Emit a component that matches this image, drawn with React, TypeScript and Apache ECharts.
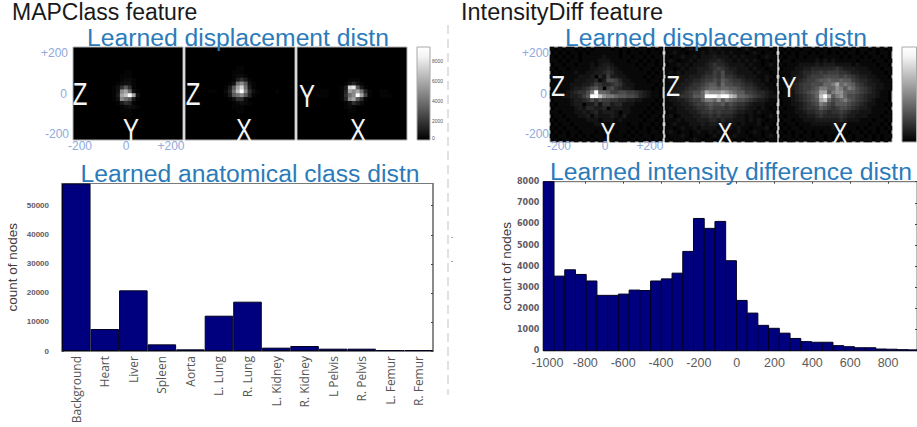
import React, { useEffect, useRef } from "react";
import * as echarts from "echarts";

const classNames = ["Background", "Heart", "Liver", "Spleen", "Aorta", "L. Lung", "R. Lung", "L. Kidney", "R. Kidney", "L Pelvis", "R. Pelvis", "L. Femur", "R. Femur"];
const classCounts = [57640, 7570, 20870, 2290, 570, 12150, 16970, 1150, 1720, 800, 800, 340, 340];
const classTicks = [0, 10000, 20000, 30000, 40000, 50000];

const intensityBinStart = -1022;
const intensityBinWidth = 56.7;
const intensityCounts = [8000, 3530, 3830, 3610, 3300, 2620, 2620, 2680, 2870, 2850, 3300, 3400, 3670, 4700, 6260, 5790, 6120, 4260, 2380, 1780, 1200, 1060, 830, 580, 430, 400, 400, 240, 190, 140, 140, 80, 70, 50, 40];
const intensityXTicks = [-1000, -800, -600, -400, -200, 0, 200, 400, 600, 800];
const intensityYTicks = [0, 1000, 2000, 3000, 4000, 5000, 6000, 7000, 8000];

const colorbarTicks = ["8000", "6000", "4000", "2000", "0"];

// displacement histograms: one hex digit per cell, brightness 0..f, top row first
const mapZY = ["", "", "", "", "", "",
  "0000000000000110", "0000000000001110", "0000000000001221", "0000000000012331",
  "0000000000136861", "000000000013ab931", "000000000014bcfb3", "000000000013a9841",
  "0000000000014651", "00000000000012321", "000000000000111", "000000000000011"];
const mapZX = ["", "", "", "", "",
  "0000000000000110", "0000000000001110", "0000000000001221", "00000000000014641",
  "00000000000139a831", "0000000000148bd941", "0000001100259cfa63100001", "00000000001489a851",
  "0000000000013662", "00000000000012321", "000000000000111", "0000000000000110"];
const mapYX = ["", "", "", "", "", "", "", "",
  "0000000000000111", "00000000000013531", "0000000000014de841", "0000001100015bab9510011",
  "00000111000169afb71001110", "0000000000015ab861", "00000000000013642", "000000000000121", "0000000000000110"];
const intensityZY = [
  "1010110101011110101010110101", "0101011010111111101011010110", "1010101011111211101101101011",
  "1101011011112221111011010101", "0110110111212332111110101101", "1011011111223343211111011010",
  "0101112112233454221111110101", "1101111222304263322111101011", "0111112223341377642211110110",
  "1011122233465445653221111101", "0111123345786067543321111010", "1111234557af9986677665432110",
  "1112233468ffdbaa988776432110", "0111123345757665544332211101", "1011123303352553442221111010",
  "0111112324433403332211110101", "1101112232342333202211101011", "0110111223132223213111010110",
  "1011011112221222121111101101", "0101101111122112111011011010", "1010110111111111111101010101",
  "0101011011101111011010110110", "1011010101011010110101011011", "0101101010101101011010101010"];
const intensityZX = [
  "1111012101121211110121011101", "0121101112122121211101210110", "1011211212223222121211101211",
  "1210112122233432212121210101", "0112121222345443222212110121", "1101212233345654332221211011",
  "1212122233446574432222121101", "0112223334556575543322211210", "1212233445667687655433221201",
  "1122334556788697766544322110", "1223345567899899887655432211", "1233456779cbbbcba98866544321",
  "2234556889fffeffdc9987654322", "1223345668aa9b8a987765433211", "1122334566787786765543222110",
  "1212233455676665654432212101", "0112223345565655543322121110", "1201222334454544432212110121",
  "1112122233344343322212121011", "0121112223233232221211120110", "1101211212222122212110111201",
  "1210110121121211112101210110", "0111210111012110121110110121", "1011101210110101101011011011"];
const intensityYX = [
  "1010101101010110101011010101", "0101011010110101011010110110", "1011010111011110101101011010",
  "0110111112121211111011101101", "1011122223233322221211110110", "0111223344444454333222111011",
  "1112234455656665543322211101", "0112334566677776765433221110", "1122345667889889886544322111",
  "1123456677799ac9a98654332211", "1123456678aa99ba8a9765432211", "0122456789cc8abb98876543211",
  "1122345679dfc8ab97765433211", "0112345678cd9789a8765432111", "0112234567a97688876543221101",
  "1011234556876567765433211110", "0111223445654556543322211101", "1011122334544445433222111011",
  "0110112223333334322211101101", "1011011122222222211111011010", "0101101111111211111010110101",
  "1010110101011110101101010110", "0110101101101011010110101011", "1011010110101010110101101010"];

const heatSets = [mapZY, mapZX, mapYX, intensityZY, intensityZX, intensityYX];
const heatBoxes = [
  [73, 47, 110, 93], [185, 47, 110, 93], [297, 47, 110, 93],
  [550, 47, 113, 95], [665, 47, 112, 95], [779, 47, 113, 95],
];
const heatCols = 28;
const heatRows = 24;

const axisLetters: [string, number, number, number][] = [
  ["Z", 80, 94, 32], ["Y", 131, 130, 32], ["Z", 193, 94, 32], ["X", 244, 130, 32], ["Y", 307, 96, 32], ["X", 358, 130, 32],
  ["Z", 558, 86, 30], ["Y", 608, 133, 30], ["Z", 673, 86, 30], ["X", 725, 133, 30], ["Y", 789, 87, 30], ["X", 840, 133, 30],
];
const displacementLabels: [string, number, number, string][] = [
  ["+200", 68, 53, "right"], ["0", 67, 94, "right"], ["-200", 69, 134, "right"],
  ["-200", 80, 146, "center"], ["0", 126, 146, "center"], ["+200", 171, 146, "center"],
  ["+200", 549, 53, "right"], ["0", 547, 94, "right"], ["-200", 549, 134, "right"],
  ["-200", 559, 146, "center"], ["0", 605, 146, "center"], ["+200", 650, 146, "center"],
];
const headings: [string, number, number, number, string, string][] = [
  ["MAPClass feature", 12, 12, 23, "#1a1a1a", "left"],
  ["IntensityDiff feature", 461, 12, 23.5, "#1a1a1a", "left"],
  ["Learned displacement distn", 238, 37, 24.7, "#2b7bba", "center"],
  ["Learned displacement distn", 716, 37, 24.7, "#2b7bba", "center"],
  ["Learned anatomical class distn", 250, 173, 24.7, "#2b7bba", "center"],
  ["Learned intensity difference distn", 731, 171, 24.7, "#2b7bba", "center"],
];

const BOX = "#7a7a7a";
const TICK_GRAY = "#5f5a64";

function text(t: string, x: number, y: number, size: number, fill: string, align = "center", extra: any = {}) {
  return {
    type: "text", x, y, z: 10, silent: true, ...extra,
    style: { text: t, fill, fontSize: size, fontFamily: "Liberation Sans", textAlign: align, textVerticalAlign: "middle", align, verticalAlign: "middle" },
  };
}

function colorbar(x: number, y: number, w: number, h: number) {
  return {
    type: "rect", z: 10, silent: true, shape: { x, y, width: w, height: h },
    style: {
      fill: new echarts.graphic.LinearGradient(0, 0, 0, 1, [
        { offset: 0, color: "#ffffff" }, { offset: 0.1, color: "#f4f4f4" }, { offset: 1, color: "#000000" },
      ]),
      stroke: "#a8a8a8", lineWidth: 1,
    },
  };
}

const plain = (v: number) => String(v);

export default function App() {
  const ref = useRef<HTMLDivElement>(null);
  useEffect(() => {
    const chart = echarts.init(ref.current!, undefined, { renderer: "svg" });
    const grids: any[] = [];
    const xAxes: any[] = [];
    const yAxes: any[] = [];
    const series: any[] = [];
    const colIdx = Array.from({ length: heatCols }, (_, i) => i);
    const rowIdx = Array.from({ length: heatRows }, (_, i) => i);
    heatSets.forEach((rows, i) => {
      const [left, top, width, height] = heatBoxes[i];
      grids.push({ left, top, width, height, show: true, backgroundColor: "#000", borderColor: "#b0b0b0", borderWidth: 1 });
      xAxes.push({ type: "category", gridIndex: i, data: colIdx, show: false });
      yAxes.push({ type: "category", gridIndex: i, data: rowIdx, show: false, inverse: true });
      const data: number[][] = [];
      rows.forEach((row, r) => {
        for (let c = 0; c < Math.min(row.length, heatCols); c++) {
          const v = parseInt(row[c], 16);
          if (v > 0) data.push([c, r, v]);
        }
      });
      series.push({ type: "heatmap", xAxisIndex: i, yAxisIndex: i, data, silent: true });
    });

    const tickStyle = { color: TICK_GRAY, fontSize: 8, fontWeight: "bold", fontFamily: "Liberation Sans", formatter: plain };
    // class distribution
    grids.push({ left: 62, top: 183.5, width: 371, height: 167.5, show: true, backgroundColor: "#fff", borderColor: BOX, borderWidth: 1 });
    xAxes.push({
      type: "category", gridIndex: 6, data: classNames,
      axisLine: { lineStyle: { color: BOX, width: 1.5 } },
      axisTick: { show: false },
      axisLabel: { rotate: 90, margin: 5, interval: 0, color: "#555", fontSize: 12, fontFamily: "Open Sans" },
    });
    xAxes.push({
      type: "category", gridIndex: 6, data: classNames, position: "top",
      axisLine: { lineStyle: { color: BOX, width: 1.5 } },
      axisTick: { inside: true, length: 2, alignWithLabel: true, interval: 0, lineStyle: { color: "#444" } },
      axisLabel: { show: false },
    });
    const classAxis = (position: string, labels: boolean) => ({
      type: "value", gridIndex: 6, position, min: 0, max: 57640,
      axisLine: { show: true, onZero: false, lineStyle: { color: BOX, width: 1.5 } },
      axisTick: { show: true, inside: true, length: 2, customValues: classTicks, lineStyle: { color: "#444" } },
      axisLabel: { show: labels, customValues: classTicks, margin: 13, ...tickStyle },
      splitLine: { show: false },
      ...(labels ? {
        name: "count of nodes", nameLocation: "middle", nameGap: 43,
        nameTextStyle: { color: "#3f3a3e", fontSize: 13.5, fontFamily: "Liberation Sans" },
      } : {}),
    });
    yAxes.push(classAxis("left", true), classAxis("right", false));
    series.push({
      type: "bar", xAxisIndex: 6, yAxisIndex: 6, data: classCounts, barCategoryGap: 0, silent: true,
      itemStyle: { color: "#00007f", borderColor: "#000020", borderWidth: 1 },
    });

    // intensity distribution
    const xMin = intensityBinStart;
    const xMax = 953;
    grids.push({ left: 543.3, top: 181.7, width: 373.7, height: 169, show: true, backgroundColor: "#fff", borderColor: BOX, borderWidth: 1 });
    const intensityX = (position: string, labels: boolean) => ({
      type: "value", gridIndex: 7, position, min: xMin, max: xMax,
      axisLine: { onZero: false, lineStyle: { color: BOX, width: 1 } },
      axisTick: { show: !labels, inside: true, length: 2, customValues: intensityXTicks, lineStyle: { color: "#444" } },
      axisLabel: {
        show: labels, customValues: intensityXTicks, margin: 6, color: "#5a5a5a", fontSize: 12.5, formatter: plain,
        fontFamily: "Liberation Sans Narrow, Liberation Sans",
      },
      splitLine: { show: false },
    });
    xAxes.push(intensityX("bottom", true), intensityX("top", false));
    const intensityY = (position: string, labels: boolean) => ({
      type: "value", gridIndex: 7, position, min: 0, max: 8000,
      axisLine: { show: true, onZero: false, lineStyle: { color: BOX, width: 1 } },
      axisTick: { show: !labels, inside: true, length: 2, customValues: intensityYTicks, lineStyle: { color: "#444" } },
      axisLabel: { show: labels, customValues: intensityYTicks, margin: 4, ...tickStyle, fontFamily: "DejaVu Sans" },
      splitLine: { show: false },
      ...(labels ? {
        name: "count of nodes", nameLocation: "middle", nameGap: 30,
        nameTextStyle: { color: "#3f3a3e", fontSize: 13.5, fontFamily: "Liberation Sans" },
      } : {}),
    });
    yAxes.push(intensityY("left", true), intensityY("right", false));
    series.push({
      type: "custom", xAxisIndex: 8, yAxisIndex: 8, silent: true,
      encode: { x: [0, 1], y: 2 },
      data: intensityCounts.map((v, i) => [
        intensityBinStart + i * intensityBinWidth,
        intensityBinStart + (i + 1) * intensityBinWidth,
        v,
      ]),
      renderItem: (params: any, api: any) => {
        const a = api.coord([api.value(0), api.value(2)]);
        const b = api.coord([api.value(1), 0]);
        const shape = echarts.graphic.clipRectByRect(
          { x: a[0], y: a[1], width: b[0] - a[0], height: b[1] - a[1] },
          { x: params.coordSys.x, y: params.coordSys.y, width: params.coordSys.width, height: params.coordSys.height },
        );
        return shape && {
          type: "rect", shape,
          style: { fill: "#00007f", stroke: "#000020", lineWidth: 1 },
        };
      },
    });

    const graphics: any[] = [];
    headings.forEach(([t, x, y, s, c, a]) => graphics.push(text(t, x, y, s, c, a)));
    axisLetters.forEach(([t, x, y, s]) => graphics.push(text(t, x, y, s, "#f4f4f4", "center", { scaleX: 0.75 })));
    displacementLabels.forEach(([t, x, y, a]) => graphics.push(text(t, x, y, 12, "#8fa9dc", a)));
    graphics.push(colorbar(417, 47, 13, 93), colorbar(902, 47, 14.5, 95));
    colorbarTicks.forEach((t, i) => graphics.push(text(t, 432, [61, 81, 101, 121, 138][i], 5, "#555", "left")));
    graphics.push({
      type: "line", z: 1, silent: true, shape: { x1: 448, y1: 25, x2: 448, y2: 395 },
      style: { stroke: "#d8d8d8", lineWidth: 1.5, lineDash: [9, 5] },
    });
    graphics.push({ type: "rect", z: 1, silent: true, shape: { x: 451.5, y: 237, width: 1, height: 1 }, style: { fill: "#666" } });
    graphics.push({ type: "rect", z: 1, silent: true, shape: { x: 451.5, y: 261, width: 1, height: 1 }, style: { fill: "#802030" } });

    chart.setOption({
      animation: false,
      backgroundColor: "#fff",
      grid: grids,
      xAxis: xAxes,
      yAxis: yAxes,
      visualMap: [
        {
          show: false, min: 0, max: 15, seriesIndex: [0, 1, 2],
          inRange: { color: ["#000000", "#101010", "#303030", "#707070", "#c0c0c0", "#ffffff"] },
        },
        {
          show: false, min: 0, max: 15, seriesIndex: [3, 4, 5],
          inRange: { color: ["#000000", "#1c1c1c", "#3e3e3e", "#686868", "#a8a8a8", "#ffffff"] },
        },
      ],
      series,
      graphic: { elements: graphics },
    });
    return () => chart.dispose();
  }, []);
  return <div ref={ref} style={{ position: "absolute", left: 0, top: 0, width: 917, height: 427 }} />;
}
